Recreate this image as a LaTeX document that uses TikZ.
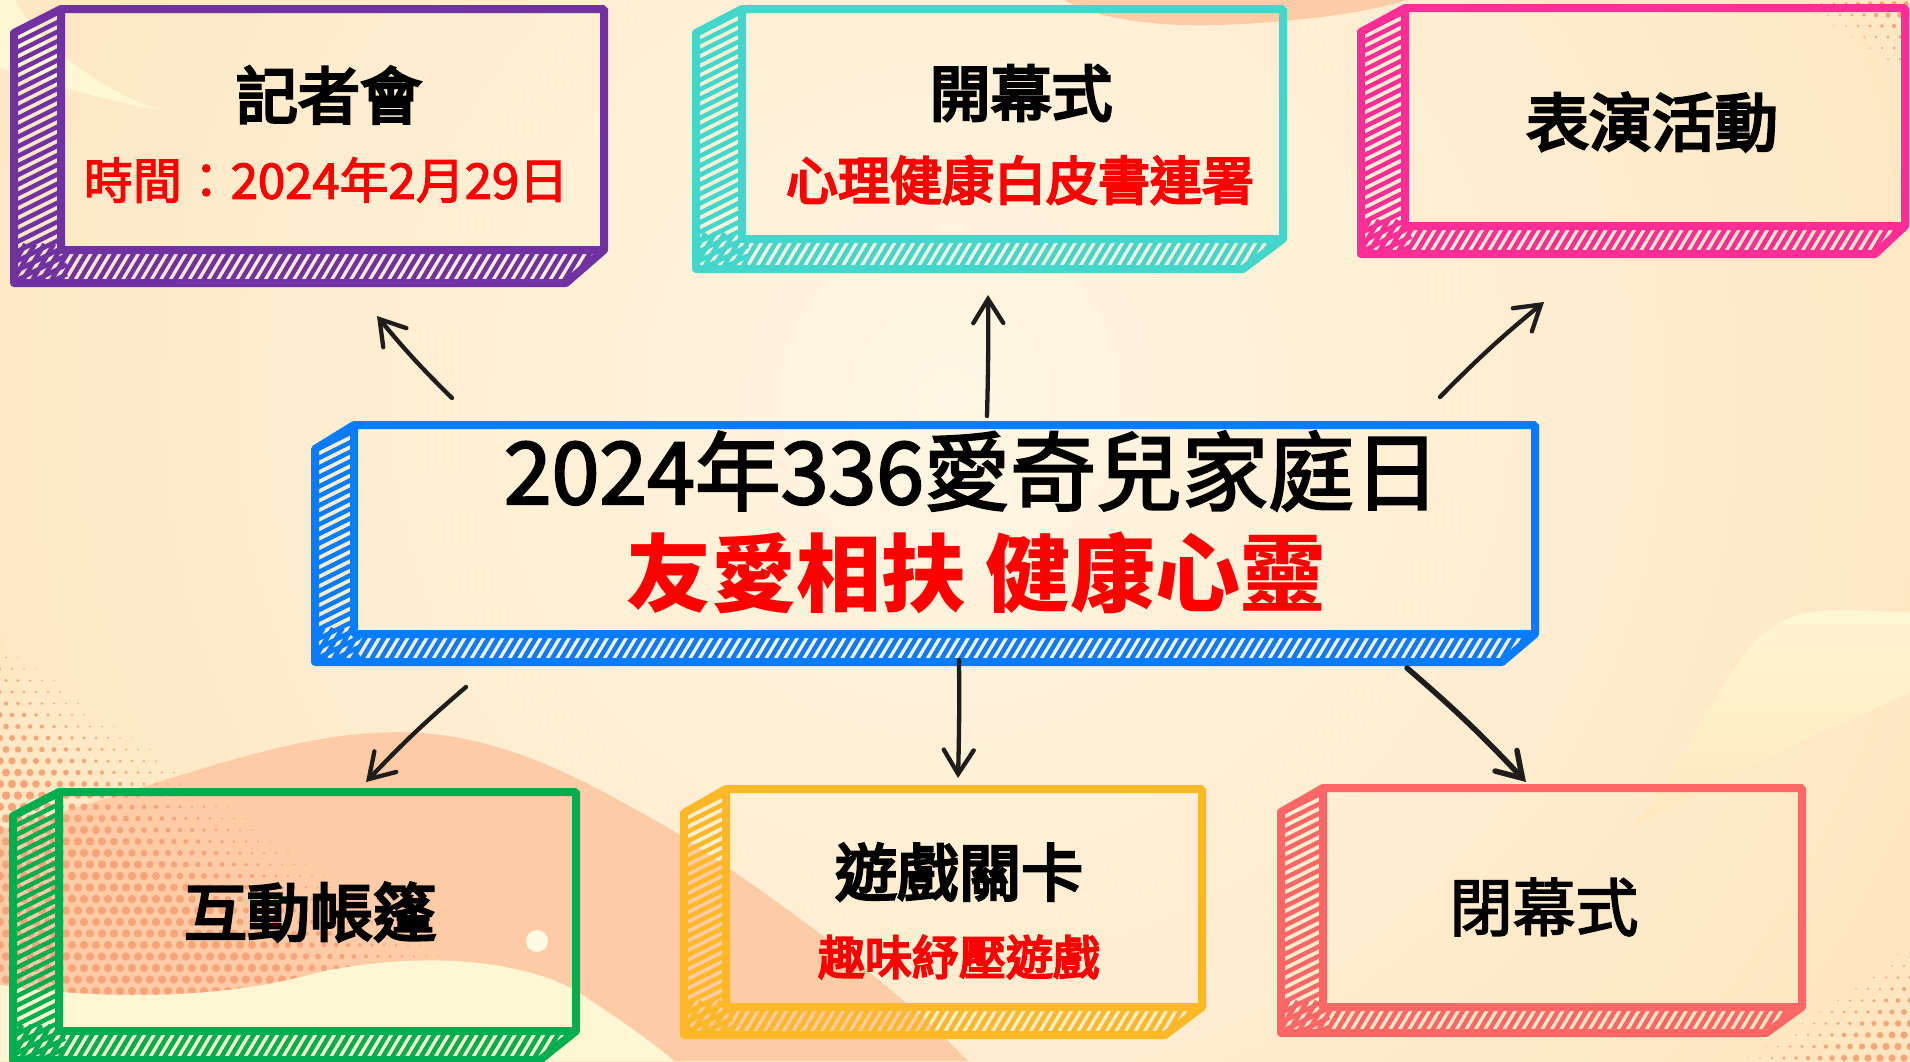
\documentclass[tikz,border=0pt]{standalone}
\usepackage{fontspec}
\usetikzlibrary{arrows.meta}
\newfontfamily\cjk{Noto Sans CJK TC}
\newfontfamily\cjkm{Noto Sans CJK TC}[FakeBold=2.5]
\newfontfamily\cjkh{Noto Sans CJK TC}[FakeBold=4.5]
\newcommand{\setfs}[1]{\fontsize{#1}{#1}\selectfont}
\definecolor{bgin}{HTML}{FFF6E3}
\definecolor{bgout}{HTML}{FDE0B4}
\definecolor{peach}{HTML}{FDCBA6}
\definecolor{pale}{HTML}{FFF7D3}
\definecolor{dotc}{HTML}{F6A47A}
\definecolor{ink}{HTML}{1E1C1C}
\definecolor{cpurple}{RGB}{112,50,160}
\definecolor{ccyan}{RGB}{66,214,204}
\definecolor{cpink}{RGB}{255,46,150}
\definecolor{cblue}{RGB}{8,124,255}
\definecolor{cgreen}{RGB}{0,174,80}
\definecolor{corange}{RGB}{253,184,40}
\definecolor{ccoral}{RGB}{255,102,102}
\definecolor{cred}{RGB}{255,0,0}
\tikzset{
  ttl/.style={font=\cjkh, text=black, inner sep=0, anchor=center},
  ttlm/.style={font=\cjkm, text=black, inner sep=0, anchor=center},
  subr/.style={font=\cjkm, text=cred, inner sep=0, anchor=center},
  subh/.style={font=\cjkh, text=cred, inner sep=0, anchor=center},
  subb/.style={font=\cjk\bfseries, text=cred, inner sep=0, anchor=center},
  arr/.style={draw=ink, line width=4.3, line cap=round, -{Straight Barb[length=24pt,width=30pt,line cap=round]}},
}
% #1 name #2 colour #3 L #4 T #5 R #6 B #7 left depth #8 bottom depth #9 bottom-right diagonal
\newcommand{\cubebox}[9]{%
  \begin{scope}
    \clip (#3,#4) -- ({#3-#7},{#4+24}) -- ({#3-#7},{#6+#8}) -- ({#5-#9},{#6+#8}) -- (#5,#6) -- (#3,#6) -- cycle;
    \pgfmathtruncatemacro\nleft{(#6+#8-#4+60)/9.5}
    \foreach \k in {0,...,\nleft}{\draw[#2, line width=4.6] ({#3-#7-6},{#4+9.5*\k}) -- ({#3+6},{#4+9.5*\k-0.5*(#7+12)});}
    \pgfmathtruncatemacro\nbot{(#5-#3+#7+40)/9.5}
    \foreach \k in {0,...,\nbot}{\draw[#2, line width=4.6] ({#3-#7-25+9.5*\k},{#6+#8+6}) -- ({#3-#7-25+9.5*\k+0.6*(#8+12)},{#6-6});}
  \end{scope}
  \draw[#2, line width=8, line join=round, line cap=round] (#3,#4) -- ({#3-#7},{#4+24}) -- ({#3-#7},{#6+#8}) -- ({#5-#9},{#6+#8}) -- (#5,#6);
  \node[draw=#2, line width=8, rounded corners=1.5, minimum width={#5-#3}, minimum height={#6-#4}, inner sep=0, outer sep=0] (#1) at ({(#3+#5)/2},{(#4+#6)/2}) {};
}
\begin{document}
\begin{tikzpicture}[x=1pt,y=-1pt]
\useasboundingbox (0,0) rectangle (1910,1061);
% background
\begin{scope}
  \clip (0,0) rectangle (1910,1061);
  \shade[inner color=bgin, outer color=bgout] (-550,-1100) rectangle (2450,1900);
  % top peach blob
  \fill[peach] (1064,0) .. controls (1100,20) and (1160,27) .. (1220,25) .. controls (1300,22) and (1370,12) .. (1407,0) -- cycle;
  % top-left pale sliver
  \fill[pale] (0,0) -- (15,0) .. controls (40,45) and (100,90) .. (160,110) .. controls (100,100) and (40,80) .. (0,68) -- cycle;
  % bottom-left peach wave
  \fill[peach] (0,830) .. controls (180,780) and (300,725) .. (421,733) .. controls (520,740) and (600,790) .. (667,827) .. controls (780,900) and (900,990) .. (968,1061) -- (0,1061) -- cycle;
  % halftone dots bottom-left
  \begin{scope}
    \clip (0,600) -- (520,985) -- (420,966) .. controls (330,966) and (250,998) .. (150,998) -- (0,990) -- cycle;
    \foreach \i in {0,...,44}{
      \foreach \j in {0,...,34}{
        \pgfmathsetmacro\xx{\i*12+6*mod(\j,2)}
        \pgfmathsetmacro\yy{600+\j*11.5}
        \pgfmathsetmacro\rr{min(4.2,max(0,-(\xx*0.355-(\yy-620)*0.5)/0.613/30))}
        \ifdim\rr pt>0.6pt \fill[dotc] (\xx,\yy) circle[radius=\rr]; \fi
      }
    }
  \end{scope}
  % pale wave bottom-left
  \fill[pale] (0,985) .. controls (100,1000) and (220,1000) .. (316,973) .. controls (420,950) and (520,960) .. (575,990) .. controls (620,1020) and (650,1040) .. (674,1061) -- (0,1061) -- cycle;
  % white dot
  \fill[pale!60!white] (537,941) circle[radius=11];
  % right swoosh
  \shade[top color=pale, bottom color=bgout!70!pale] (1632,827) .. controls (1680,770) and (1710,700) .. (1740,660) .. controls (1765,625) and (1790,612) .. (1830,610) -- (1910,612) -- (1910,693) .. controls (1830,728) and (1720,780) .. (1632,827) -- cycle;
  % dots top-right
  \foreach \i in {0,...,13}{
    \foreach \j in {0,...,9}{
      \pgfmathsetmacro\xx{1750+\i*12+6*mod(\j,2)}
      \pgfmathsetmacro\yy{4+\j*11}
      \pgfmathsetmacro\rr{min(2.8,max(0,((\xx-1770)*0.95-\yy*1.4)/1.69/22))}
      \ifdim\rr pt>0.6pt \fill[dotc] (\xx,\yy) circle[radius=\rr]; \fi
    }
  }
  % dots bottom-right
  \foreach \i in {0,...,17}{
    \foreach \j in {0,...,12}{
      \pgfmathsetmacro\xx{1700+\i*12+6*mod(\j,2)}
      \pgfmathsetmacro\yy{920+\j*11.5}
      \pgfmathsetmacro\rr{min(3.6,max(0,((\xx-1720)*1.31+(\yy-1061)*1.9)/2.31/22))}
      \ifdim\rr pt>0.6pt \fill[dotc] (\xx,\yy) circle[radius=\rr]; \fi
    }
  }
\end{scope}

% boxes
\cubebox{press}{cpurple}{61}{9}{604}{250}{47}{33}{38}
\cubebox{open}{ccyan}{742}{9}{1283}{239}{46}{30}{40}
\cubebox{show}{cpink}{1405}{8}{1905}{226}{44}{28}{30}
\cubebox{main}{cblue}{354}{425}{1535}{634}{39}{28}{33}
\cubebox{tent}{cgreen}{59}{792}{576}{1031}{46}{29}{36}
\cubebox{game}{corange}{726}{789}{1202}{1007}{42}{28}{37}
\cubebox{close}{ccoral}{1323}{788}{1802}{1007}{42}{26}{36}

% texts
\node[ttl] (pressT) at (329,95) {\setfs{62}記者會};
\node[subr] (pressS) at (326,180) {\setfs{49}時間：2024年2月29日};
\node[ttl] (openT) at (1021,93) {\setfs{61}開幕式};
\node[subh] (openS) at (1020,180) {\setfs{52}心理健康白皮書連署};
\node[ttl] (showT) at (1652,122) {\setfs{63}表演活動};
\node[ttlm] (mainT) at (972,471) {\setfs{86}2024年336愛奇兒家庭日};
\node[subb] (mainS) at (976,573) {\setfs{85}友愛相扶 健康心靈};
\node[ttl] (tentT) at (310,912) {\setfs{63}互動帳篷};
\node[ttl] (gameT) at (959,872) {\setfs{62}遊戲關卡};
\node[subh] (gameS) at (959,957) {\setfs{47}趣味紓壓遊戲};
\node[ttlm] (closeT) at (1544,907) {\setfs{63}閉幕式};

% arrows
\coordinate (a1s) at (452,398); \coordinate (a1e) at (377,316);
\coordinate (a2s) at (987,416); \coordinate (a2e) at (988,295);
\coordinate (a3s) at (1440,397); \coordinate (a3e) at (1544,302);
\coordinate (a4s) at (466,687); \coordinate (a4e) at (366,782);
\coordinate (a5s) at (959,660); \coordinate (a5e) at (958,778);
\coordinate (a6s) at (1407,668); \coordinate (a6e) at (1526,782);
\draw[arr] (a1s) to[bend left=3] (a1e);
\draw[arr] (a2s) to[bend right=1] (a2e);
\draw[arr] (a3s) to[bend left=3] (a3e);
\draw[arr] (a4s) to[bend right=3] (a4e);
\draw[arr] (a5s) to[bend left=1] (a5e);
\draw[arr, line width=5.5] (a6s) to[bend left=3] (a6e);
\end{tikzpicture}
\end{document}
